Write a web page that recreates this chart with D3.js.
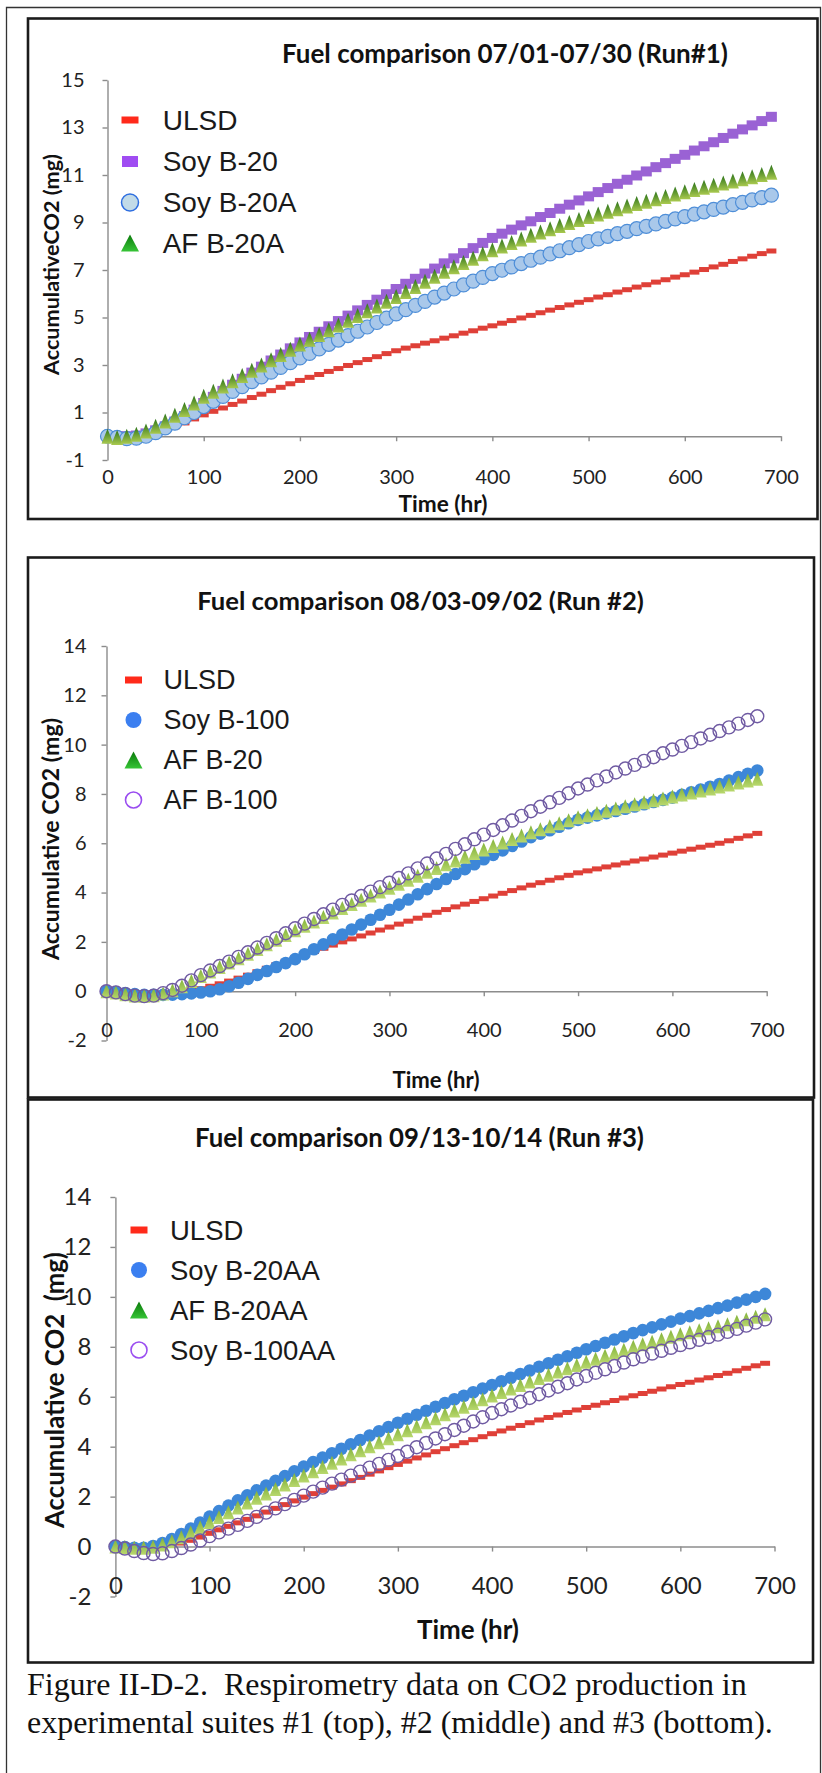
<!DOCTYPE html>
<html>
<head>
<meta charset="utf-8">
<script src="https://cdn.jsdelivr.net/npm/d3@7"></script>
<style>
body { margin: 0; background: #fff; }
svg text { white-space: pre; }
</style>
</head>
<body>
<svg id="fig"></svg>
<script>
// sampling times (hr), same for all three runs
var hours = [0,10,20,30,40,50,60,70,80,90,100,110,120,130,140,150,160,170,180,190,
  200,210,220,230,240,250,260,270,280,290,300,310,320,330,340,350,360,370,380,390,
  400,410,420,430,440,450,460,470,480,490,500,510,520,530,540,550,560,570,580,590,
  600,610,620,630,640,650,660,670,680,690];

var xTicks = [0,100,200,300,400,500,600,700];
var run1_yticks = [-1,1,3,5,7,9,11,13,15];
var run23_yticks = [-2,0,2,4,6,8,10,12,14];

// Run #1
var run1_ulsd = [0.00,0.00,-0.03,-0.02,0.03,0.10,0.24,0.40,0.56,0.73,
  0.90,1.05,1.19,1.34,1.48,1.63,1.77,1.92,2.06,2.21,
  2.35,2.48,2.60,2.73,2.85,2.98,3.10,3.23,3.35,3.48,
  3.60,3.71,3.81,3.92,4.02,4.13,4.23,4.34,4.44,4.55,
  4.65,4.76,4.87,4.98,5.09,5.20,5.31,5.42,5.53,5.64,
  5.75,5.86,5.96,6.07,6.17,6.28,6.38,6.49,6.59,6.70,
  6.80,6.91,7.02,7.13,7.24,7.36,7.47,7.58,7.69,7.80];
var run1_soyB20 = [0.00,0.00,0.00,0.03,0.12,0.25,0.42,0.62,0.85,1.12,
  1.40,1.66,1.91,2.17,2.42,2.68,2.93,3.19,3.44,3.70,
  3.95,4.18,4.40,4.63,4.85,5.08,5.30,5.53,5.75,5.98,
  6.20,6.42,6.63,6.85,7.06,7.28,7.49,7.71,7.92,8.14,
  8.35,8.53,8.70,8.88,9.05,9.23,9.40,9.58,9.75,9.93,
  10.10,10.28,10.45,10.63,10.80,10.98,11.15,11.33,11.50,11.68,
  11.85,12.03,12.21,12.38,12.56,12.74,12.92,13.09,13.27,13.45];
var run1_soyB20A = [0.00,-0.05,-0.10,-0.08,0.00,0.15,0.35,0.55,0.78,1.00,
  1.25,1.47,1.68,1.89,2.09,2.30,2.50,2.70,2.90,3.10,
  3.30,3.49,3.68,3.87,4.05,4.24,4.42,4.60,4.79,4.97,
  5.15,5.33,5.51,5.68,5.86,6.03,6.20,6.37,6.53,6.69,
  6.85,6.99,7.13,7.27,7.41,7.54,7.68,7.81,7.94,8.07,
  8.20,8.31,8.42,8.53,8.63,8.74,8.84,8.94,9.05,9.15,
  9.25,9.35,9.45,9.55,9.65,9.75,9.85,9.95,10.05,10.15];
var run1_afB20A = [0.00,-0.05,0.00,0.08,0.22,0.42,0.64,0.88,1.13,1.40,
  1.68,1.90,2.12,2.34,2.56,2.78,3.00,3.22,3.44,3.66,
  3.88,4.08,4.28,4.48,4.68,4.88,5.08,5.28,5.48,5.68,
  5.88,6.10,6.31,6.53,6.74,6.95,7.14,7.32,7.50,7.68,
  7.85,8.01,8.16,8.31,8.46,8.60,8.74,8.87,9.00,9.13,
  9.25,9.36,9.47,9.58,9.69,9.80,9.90,10.00,10.10,10.20,
  10.30,10.39,10.48,10.57,10.66,10.75,10.84,10.93,11.02,11.12];

// Run #2
var run2_ulsd = [0.00,-0.03,-0.07,-0.10,-0.10,-0.10,-0.08,-0.05,-0.02,0.03,
  0.10,0.20,0.30,0.41,0.53,0.65,0.79,0.93,1.07,1.21,
  1.35,1.48,1.61,1.74,1.87,2.00,2.12,2.24,2.36,2.48,
  2.60,2.72,2.84,2.96,3.08,3.20,3.31,3.42,3.53,3.64,
  3.75,3.86,3.97,4.08,4.19,4.30,4.40,4.50,4.60,4.70,
  4.80,4.88,4.96,5.04,5.12,5.20,5.28,5.36,5.44,5.52,
  5.60,5.68,5.76,5.84,5.92,6.00,6.10,6.20,6.30,6.40];
var run2_soyB100 = [0.00,-0.03,-0.08,-0.12,-0.15,-0.15,-0.15,-0.14,-0.12,-0.09,
  -0.05,0.00,0.08,0.20,0.34,0.50,0.66,0.82,0.98,1.14,
  1.30,1.50,1.70,1.90,2.10,2.30,2.50,2.70,2.90,3.10,
  3.30,3.51,3.72,3.93,4.14,4.35,4.55,4.75,4.95,5.15,
  5.35,5.53,5.71,5.89,6.07,6.25,6.39,6.53,6.67,6.81,
  6.95,7.04,7.13,7.22,7.31,7.40,7.49,7.58,7.67,7.76,
  7.85,7.96,8.07,8.18,8.29,8.40,8.54,8.68,8.82,8.95];
var run2_afB20 = [0.00,-0.05,-0.12,-0.17,-0.18,-0.16,-0.09,0.04,0.20,0.41,
  0.62,0.80,0.98,1.16,1.34,1.52,1.71,1.90,2.09,2.28,
  2.47,2.65,2.83,3.01,3.19,3.37,3.54,3.71,3.88,4.04,
  4.20,4.36,4.52,4.68,4.84,5.00,5.15,5.30,5.45,5.60,
  5.75,5.89,6.03,6.17,6.31,6.45,6.57,6.69,6.81,6.93,
  7.05,7.14,7.23,7.32,7.41,7.50,7.58,7.66,7.74,7.82,
  7.90,7.98,8.06,8.14,8.22,8.30,8.38,8.46,8.54,8.62];
var run2_afB100 = [0.00,-0.05,-0.12,-0.18,-0.20,-0.18,-0.08,0.05,0.22,0.44,
  0.65,0.84,1.02,1.20,1.39,1.58,1.77,1.96,2.15,2.35,
  2.55,2.74,2.93,3.12,3.31,3.50,3.68,3.86,4.04,4.22,
  4.40,4.59,4.78,4.98,5.18,5.38,5.57,5.77,5.96,6.16,
  6.35,6.54,6.73,6.92,7.11,7.30,7.48,7.66,7.84,8.03,
  8.22,8.38,8.55,8.71,8.87,9.03,9.18,9.34,9.49,9.65,
  9.80,9.95,10.10,10.25,10.40,10.55,10.70,10.85,11.00,11.15];

// Run #3
var run3_ulsd = [0.00,-0.02,-0.05,-0.07,-0.06,-0.02,0.05,0.14,0.25,0.38,
  0.53,0.67,0.81,0.95,1.09,1.23,1.38,1.53,1.68,1.83,
  1.98,2.12,2.25,2.38,2.51,2.64,2.77,2.90,3.03,3.16,
  3.29,3.42,3.55,3.67,3.80,3.92,4.04,4.16,4.28,4.40,
  4.52,4.63,4.74,4.85,4.96,5.07,5.17,5.27,5.37,5.47,
  5.57,5.66,5.76,5.85,5.95,6.04,6.13,6.22,6.31,6.40,
  6.49,6.58,6.67,6.76,6.85,6.94,7.04,7.14,7.24,7.34];
var run3_soyB20AA = [0.00,-0.02,-0.05,-0.05,0.02,0.14,0.30,0.50,0.72,0.96,
  1.20,1.42,1.64,1.85,2.05,2.25,2.44,2.63,2.82,3.01,
  3.20,3.38,3.56,3.74,3.92,4.10,4.27,4.45,4.62,4.79,
  4.96,5.12,5.28,5.44,5.60,5.75,5.90,6.04,6.18,6.33,
  6.47,6.62,6.76,6.91,7.05,7.20,7.34,7.48,7.62,7.76,
  7.90,8.03,8.16,8.29,8.42,8.55,8.67,8.78,8.90,9.01,
  9.13,9.23,9.34,9.44,9.55,9.65,9.77,9.89,10.00,10.12];
var run3_afB20AA = [0.00,-0.02,-0.05,-0.05,-0.01,0.08,0.21,0.37,0.56,0.77,
  0.98,1.18,1.37,1.56,1.76,1.95,2.13,2.31,2.49,2.67,
  2.85,3.02,3.19,3.36,3.53,3.70,3.86,4.02,4.18,4.34,
  4.50,4.66,4.82,4.98,5.14,5.30,5.45,5.60,5.75,5.90,
  6.05,6.19,6.33,6.47,6.61,6.75,6.88,7.01,7.14,7.27,
  7.40,7.52,7.64,7.76,7.88,8.00,8.10,8.20,8.30,8.40,
  8.50,8.58,8.66,8.74,8.82,8.90,9.00,9.10,9.20,9.30];
var run3_soyB100AA = [0.00,-0.08,-0.18,-0.26,-0.30,-0.27,-0.18,-0.06,0.08,0.24,
  0.42,0.57,0.72,0.87,1.03,1.19,1.36,1.53,1.70,1.87,
  2.04,2.20,2.36,2.52,2.68,2.84,3.00,3.16,3.31,3.47,
  3.63,3.80,3.98,4.15,4.33,4.50,4.67,4.84,5.01,5.18,
  5.35,5.50,5.65,5.80,5.95,6.10,6.25,6.40,6.54,6.69,
  6.83,6.96,7.10,7.23,7.37,7.50,7.61,7.73,7.84,7.96,
  8.07,8.18,8.28,8.39,8.49,8.60,8.72,8.85,8.97,9.10];

var caption = ["Figure II-D-2.  Respirometry data on CO2 production in",
  "experimental suites #1 (top), #2 (middle) and #3 (bottom)."];

var svg = d3.select("#fig").attr("width", 822).attr("height", 1773);

var defs = svg.append("defs");
function grad(id, top, bottom) {
  var lg = defs.append("linearGradient").attr("id", id)
    .attr("x1", 0).attr("y1", 0).attr("x2", 0).attr("y2", 1);
  lg.append("stop").attr("offset", "0%").attr("stop-color", top);
  lg.append("stop").attr("offset", "100%").attr("stop-color", bottom);
}
grad("triDark", "#2c7419", "#a9c94f");
grad("triLight", "#82b23a", "#b9d86e");
grad("triLegend", "#0b7a0b", "#36c436");

// outer frame of the page figure
svg.append("path").attr("d", "M6.5,1773V7.5H820.5V1773")
  .attr("fill", "none").attr("stroke", "#333").attr("stroke-width", 1.3);

// marker shapes
var mk = {
  dash:     {type: "rect", w: 10, h: 5, fill: "#df4038"},
  square:   {type: "rect", w: 11, h: 10, fill: "#9a62d4"},
  bubble:   {type: "circle", r: 7, fill: "#a9c8ea", stroke: "#4e8ed8", sw: 1.2},
  triBig:   {type: "tri", w: 12, h: 15, fill: "url(#triDark)"},
  dot:      {type: "circle", r: 6.3, fill: "#3d87d8"},
  triSmall: {type: "tri", w: 12, h: 14, fill: "url(#triLight)"},
  ring:     {type: "circle", r: 6.5, fill: "none", stroke: "#6f5aa2", sw: 1.4},
  // legend keys
  lgDash:   {type: "rect", w: 17, h: 7, fill: "#ff2a1a"},
  lgSquare: {type: "rect", w: 16, h: 11, fill: "#a04cf2"},
  lgBubble: {type: "circle", r: 8.5, fill: "#c2dbe8", stroke: "#2f6fe0", sw: 1.5},
  lgDot:    {type: "circle", r: 8, fill: "#3b7ff0"},
  lgTri:    {type: "tri", w: 18, h: 17, fill: "url(#triLegend)"},
  lgRing:   {type: "circle", r: 8, fill: "none", stroke: "#9a4df0", sw: 1.6}
};

function addMarker(sel, m) {
  if (m.type == "rect") {
    sel.append("rect").attr("x", -m.w / 2).attr("y", -m.h / 2)
      .attr("width", m.w).attr("height", m.h).attr("fill", m.fill);
  } else if (m.type == "circle") {
    sel.append("circle").attr("r", m.r).attr("fill", m.fill)
      .attr("stroke", m.stroke || "none").attr("stroke-width", m.sw || 0);
  } else {
    sel.append("path")
      .attr("d", "M0," + (-m.h / 2) + "L" + (m.w / 2) + "," + (m.h / 2) + "L" + (-m.w / 2) + "," + (m.h / 2) + "Z")
      .attr("fill", m.fill);
  }
}

// shrink/grow a text so it spans the width it has in the scan
function fitText(t, w) {
  var len = t.node().getComputedTextLength();
  var fs = parseFloat(t.attr("font-size"));
  t.attr("font-size", fs * w / len);
}

var panels = [
  {
    box: [28, 18.5, 789.5, 500.5], x0: 107.5, x1: 781, yb: 460, yt: 80, yTicks: run1_yticks,
    tickFont: 20, yPad: 18, xLabelOff: 40.5,
    title: "Fuel comparison 07/01-07/30 (Run#1)", titleX: 505, titleY: 63, titleW: 446,
    xTitleX: 443, xTitleY: 503.7, xTitleW: 89,
    yTitle: "AccumulativeCO2 (mg)", yTitleX: 51, yTitleY: 264.5, yTitleW: 221,
    legX: 130, legTextX: 162.7, legRows: [120, 161.5, 202.5, 243], legFont: 28,
    series: [
      {name: "ULSD", values: run1_ulsd, m: mk.dash, lg: mk.lgDash},
      {name: "Soy B-20", values: run1_soyB20, m: mk.square, lg: mk.lgSquare},
      {name: "Soy B-20A", values: run1_soyB20A, m: mk.bubble, lg: mk.lgBubble},
      {name: "AF B-20A", values: run1_afB20A, m: mk.triBig, lg: mk.lgTri}
    ]
  },
  {
    box: [28, 557.5, 786, 540], x0: 106.5, x1: 766.7, yb: 1040.5, yt: 646, yTicks: run23_yticks,
    tickFont: 20, yPad: 15, xLabelOff: 38.8,
    title: "Fuel comparison 08/03-09/02 (Run #2)", titleX: 420.5, titleY: 610, titleW: 447,
    xTitleX: 436, xTitleY: 1080, xTitleW: 87,
    yTitle: "Accumulative CO2 (mg)", yTitleX: 50.5, yTitleY: 839, yTitleW: 242,
    legX: 133.5, legTextX: 163.5, legRows: [680, 720, 760, 800], legFont: 27,
    series: [
      {name: "ULSD", values: run2_ulsd, m: mk.dash, lg: mk.lgDash},
      {name: "Soy B-100", values: run2_soyB100, m: mk.dot, lg: mk.lgDot},
      {name: "AF B-20", values: run2_afB20, m: mk.triSmall, lg: mk.lgTri},
      {name: "AF B-100", values: run2_afB100, m: mk.ring, lg: mk.lgRing}
    ]
  },
  {
    box: [28, 1099.5, 785, 563], x0: 115.4, x1: 774.5, yb: 1596.5, yt: 1197, yTicks: run23_yticks,
    tickFont: 24, yPad: 19, xLabelOff: 39.4,
    title: "Fuel comparison 09/13-10/14 (Run #3)", titleX: 419.5, titleY: 1147, titleW: 449,
    xTitleX: 468, xTitleY: 1630, xTitleW: 102,
    yTitle: "Accumulative CO2  (mg)", yTitleX: 55, yTitleY: 1390, yTitleW: 276,
    legX: 139, legTextX: 170, legRows: [1230, 1270, 1310, 1350], legFont: 27.5,
    series: [
      {name: "ULSD", values: run3_ulsd, m: mk.dash, lg: mk.lgDash},
      {name: "Soy B-20AA", values: run3_soyB20AA, m: mk.dot, lg: mk.lgDot},
      {name: "AF B-20AA", values: run3_afB20AA, m: mk.triSmall, lg: mk.lgTri},
      {name: "Soy B-100AA", values: run3_soyB100AA, m: mk.ring, lg: mk.lgRing}
    ]
  }
];

function drawPanel(p) {
  var g = svg.append("g");
  g.append("rect").attr("x", p.box[0]).attr("y", p.box[1])
    .attr("width", p.box[2]).attr("height", p.box[3])
    .attr("fill", "#fff").attr("stroke", "#1b1b1b").attr("stroke-width", 2.6);

  var x = d3.scaleLinear().domain([0, 700]).range([p.x0, p.x1]);
  var y = d3.scaleLinear().domain([p.yTicks[0], p.yTicks[p.yTicks.length - 1]]).range([p.yb, p.yt]);

  // y axis (plain hyphen for negatives, like the scan)
  var yAxis = g.append("g").attr("transform", "translate(" + p.x0 + ",0)")
    .call(d3.axisLeft(y).tickValues(p.yTicks).tickSize(5).tickSizeOuter(0).tickPadding(p.yPad)
      .tickFormat(function(d) { return String(d); }));
  // x axis sits on zero, labels pushed down under the plot
  var xAxis = g.append("g").attr("transform", "translate(0," + y(0) + ")")
    .call(d3.axisBottom(x).tickValues(xTicks).tickSize(5).tickSizeOuter(0));
  xAxis.selectAll("text").attr("y", p.xLabelOff).attr("dy", "0.35em");

  [yAxis, xAxis].forEach(function(a) {
    a.select(".domain").attr("stroke", "#8c8c8c").attr("stroke-width", 1.4);
    a.selectAll(".tick line").attr("stroke", "#8c8c8c").attr("stroke-width", 1.4);
    a.selectAll("text").attr("font-family", "Lato, 'Open Sans', sans-serif")
      .attr("font-size", p.tickFont).attr("fill", "#222");
  });

  // data markers
  p.series.forEach(function(s) {
    g.append("g").selectAll("g")
      .data(s.values)
      .join("g")
      .attr("transform", function(d, i) { return "translate(" + x(hours[i]) + "," + y(d) + ")"; })
      .each(function() { addMarker(d3.select(this), s.m); });
  });

  // legend
  p.series.forEach(function(s, i) {
    var row = g.append("g").attr("transform", "translate(" + p.legX + "," + p.legRows[i] + ")");
    addMarker(row, s.lg);
    g.append("text").attr("x", p.legTextX).attr("y", p.legRows[i]).attr("dy", "0.35em")
      .attr("font-family", "'Liberation Sans', Arial, sans-serif").attr("font-size", p.legFont)
      .attr("fill", "#1a1a1a").text(s.name);
  });

  // titles
  var t = g.append("text").attr("x", p.titleX).attr("y", p.titleY).attr("text-anchor", "middle")
    .attr("font-family", "Lato, sans-serif").attr("font-weight", "bold").attr("font-size", 24)
    .attr("fill", "#111").text(p.title);
  fitText(t, p.titleW);

  var xt = g.append("text").attr("x", p.xTitleX).attr("y", p.xTitleY).attr("dy", "0.35em")
    .attr("text-anchor", "middle").attr("font-family", "Lato, sans-serif").attr("font-weight", "bold")
    .attr("font-size", 22).attr("fill", "#111").text("Time (hr)");
  fitText(xt, p.xTitleW);

  var yt = g.append("text")
    .attr("transform", "translate(" + p.yTitleX + "," + p.yTitleY + ") rotate(-90)")
    .attr("dy", "0.35em").attr("text-anchor", "middle")
    .attr("font-family", "Lato, sans-serif").attr("font-weight", "bold")
    .attr("font-size", 22).attr("fill", "#111").text(p.yTitle);
  fitText(yt, p.yTitleW);
}

panels.forEach(drawPanel);

// caption under the figure
var capY = [1695, 1733];
var capW = [720, 746];
caption.forEach(function(line, i) {
  var c = svg.append("text").attr("x", 27).attr("y", capY[i])
    .attr("font-family", "'Liberation Serif', 'Times New Roman', serif")
    .attr("font-size", 29).attr("fill", "#111").text(line);
  fitText(c, capW[i]);
});
</script>
</body>
</html>
